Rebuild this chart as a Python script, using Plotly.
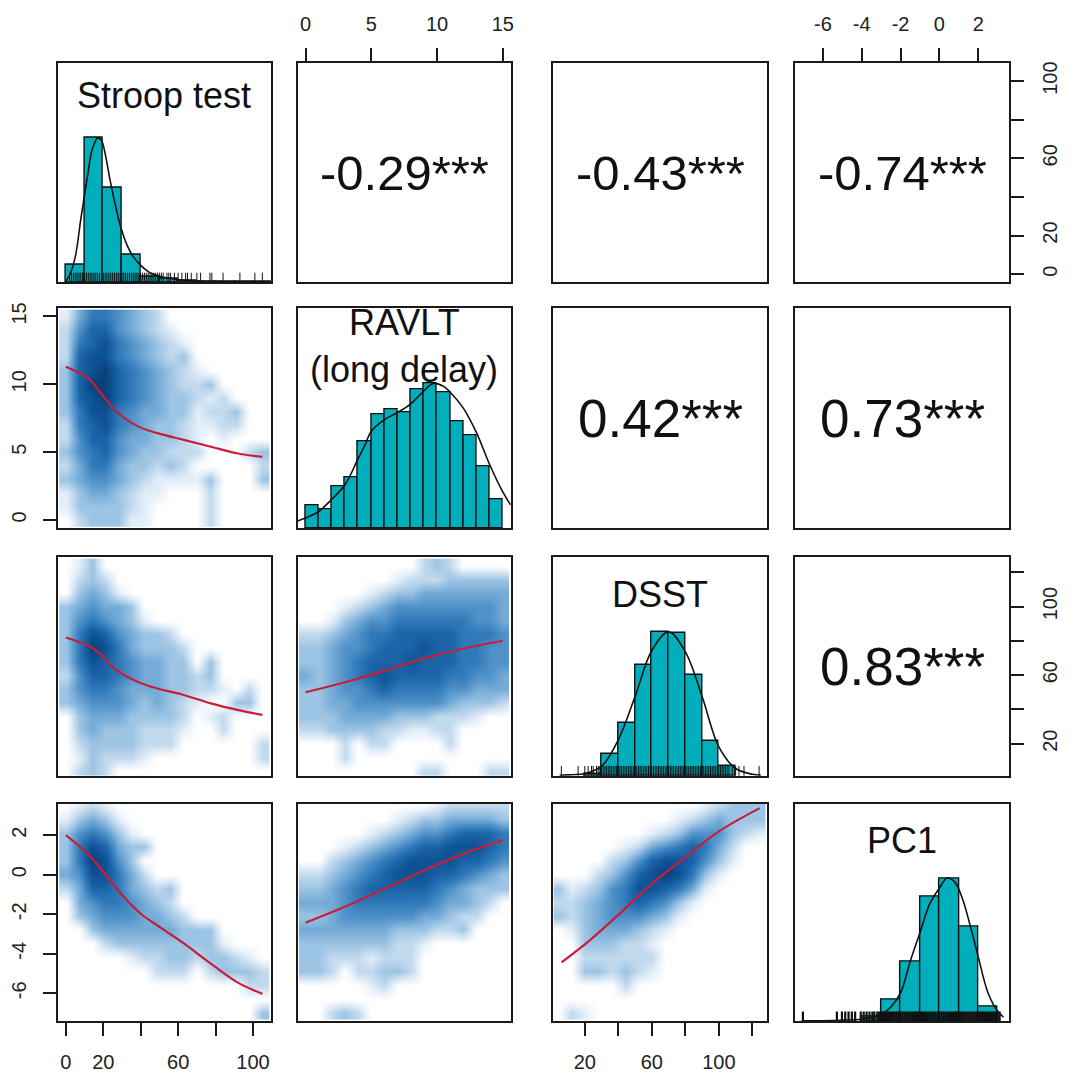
import plotly.graph_objects as go

W, H = 1077, 1074
OFF = 8  # page body margin of the html page (px)
FONT = "Liberation Sans, Arial, sans-serif"

# ---------------- variables / axes ----------------
var_titles = [["Stroop test"], ["RAVLT", "(long delay)"], ["DSST"], ["PC1"]]
title_centers_px = [[90], [318, 365], [592], [839]]
var_ranges = [[-4.3, 109.5], [-0.6, 15.6], [1.3, 129.0], [-7.42, 3.6]]
tick_vals = [[0, 20, 40, 60, 80, 100], [0, 5, 10, 15], [20, 40, 60, 80, 100, 120], [-6, -4, -2, 0, 2]]
tick_text = [["0", "20", "", "60", "", "100"], ["0", "5", "10", "15"],
             ["20", "", "60", "", "100", ""], ["-6", "-4", "-2", "0", "2"]]

# ---------------- correlations (upper panels) ----------------
corr_cells = [(0, 1), (0, 2), (0, 3), (1, 2), (1, 3), (2, 3)]
corr_labels = ["-0.29***", "-0.43***", "-0.74***", "0.42***", "0.73***", "0.83***"]

# ---------------- histograms (diagonal) ----------------
stroop_edges = [0, 10, 20, 30, 40, 50, 60, 70, 80, 90, 100, 110]
stroop_counts = [29, 240, 158, 46, 10, 6, 3, 2, 1, 1, 2]
ravlt_edges = [0, 1, 2, 3, 4, 5, 6, 7, 8, 9, 10, 11, 12, 13, 14, 15]
ravlt_counts = [16, 13, 29, 35, 60, 79, 82, 80, 96, 100, 94, 74, 64, 43, 20]
dsst_edges = [20, 30, 40, 50, 60, 70, 80, 90, 100, 110]
dsst_counts = [1, 15, 37, 77, 100, 99, 70, 24, 7]
pc1_edges = [-4, -3, -2, -1, 0, 1, 2, 3]
pc1_counts = [3, 15, 42, 87, 100, 66, 10]

stroop_dens_x = [0, 2, 5, 8, 10, 12, 14, 17, 19, 21, 23.5, 26, 29.5, 33, 36, 39.5, 44, 49, 55, 62, 70, 80, 90, 100, 109]
stroop_dens_y = [2, 12, 42, 105, 145, 185, 220, 240, 236, 214, 172, 135, 90, 60, 43, 30, 18, 11, 7, 4, 2.5, 1.5, 1, 0.7, 0.5]
ravlt_dens_x = [-0.6, 0, 1, 2, 3, 4, 4.5, 5, 6, 7, 8, 9, 9.7, 10.5, 11, 12, 13, 14, 15, 15.6]
ravlt_dens_y = [5, 7, 11.5, 20, 30, 48, 57, 67, 75, 80, 86, 95, 100, 98, 94, 83, 66, 44, 25, 16]
dsst_dens_x = [5, 10, 20, 30, 40, 50, 60, 70, 80, 90, 100, 110, 120, 125]
dsst_dens_y = [0.3, 0.6, 1.5, 6.5, 25, 55, 87, 100, 86, 55, 20, 5, 1, 0.4]
pc1_dens_x = [-7.1, -6, -5, -4, -3, -2.5, -2, -1.5, -1, -0.5, 0, 0.4, 0.8, 1.2, 1.6, 2, 2.5, 3, 3.3]
pc1_dens_y = [0.3, 0.4, 0.8, 1.5, 5, 10, 20, 42, 62, 82, 93, 100, 97, 85, 66, 45, 20, 7, 3]

stroop_rug = [2, 3, 4, 5, 6, 7, 8, 9, 10, 11, 12, 13, 14, 15, 16, 17, 18, 19, 20, 21, 22, 23, 24, 25,
              26, 27, 28, 29, 30, 31, 32, 33, 34, 35, 36, 37, 38, 39, 40, 41, 42, 43, 44, 45, 46, 47,
              48, 49, 50, 51, 52, 54, 55, 56, 58, 60, 62, 64, 65, 67, 70, 72, 77, 78, 84, 93, 101, 105]
ravlt_rug = []
dsst_rug = [6, 16, 20, 22, 24, 25, 27, 28, 29, 30, 31, 32, 33, 34, 35, 36, 37, 38, 39, 40, 41, 42,
            43, 44, 45, 46, 47, 48, 49, 50, 51, 52, 53, 54, 55, 56, 57, 58, 59, 60, 61, 62, 63, 64,
            65, 66, 67, 68, 69, 70, 71, 72, 73, 74, 75, 76, 77, 78, 79, 80, 81, 82, 83, 84, 85, 86,
            87, 88, 89, 90, 91, 92, 93, 94, 95, 96, 97, 98, 99, 100, 101, 102, 103, 104, 105, 106,
            108, 110, 112, 115, 124]
pc1_rug = [-7.03, -5.28, -5.02, -4.85, -4.68, -4.51, -4.34, -4.05, -3.9, -3.75, -3.6, -3.45, -3.35,
           -3.2, -3.1, -3.0, -2.9, -2.8, -2.7, -2.6, -2.5, -2.4, -2.3, -2.2, -2.1, -2.0, -1.9, -1.8,
           -1.7, -1.6, -1.5, -1.4, -1.3, -1.2, -1.1, -1.0, -0.9, -0.8, -0.7, -0.6, -0.5, -0.4, -0.3,
           -0.2, -0.1, 0.0, 0.1, 0.2, 0.3, 0.4, 0.5, 0.6, 0.7, 0.8, 0.9, 1.0, 1.1, 1.2, 1.3, 1.4,
           1.5, 1.6, 1.7, 1.8, 1.9, 2.0, 2.1, 2.2, 2.3, 2.4, 2.5, 2.6, 2.7, 2.8, 2.9, 3.0, 3.1]
rug_widths = [1, 1, 1, 2.2]

hist_edges = [stroop_edges, ravlt_edges, dsst_edges, pc1_edges]
hist_counts = [stroop_counts, ravlt_counts, dsst_counts, pc1_counts]
dens_x = [stroop_dens_x, ravlt_dens_x, dsst_dens_x, pc1_dens_x]
dens_y = [stroop_dens_y, ravlt_dens_y, dsst_dens_y, pc1_dens_y]
rugs = [stroop_rug, ravlt_rug, dsst_rug, pc1_rug]

# ---------------- smoothed-scatter density grids (lower panels) ----------------
grid_stroop = [0, 7, 14, 21, 28, 35, 42, 49, 56, 63, 70, 77, 84, 91, 98, 105]
grid_ravlt = [0, 1, 2, 3, 4, 5, 6, 7, 8, 9, 10, 11, 12, 13, 14, 15]
grid_dsst = [4, 12, 20, 28, 36, 44, 52, 60, 68, 76, 84, 92, 100, 108, 116, 124]
grid_pc1 = [-7.0, -6.3, -5.6, -4.9, -4.2, -3.5, -2.8, -2.1, -1.4, -0.7, 0.0, 0.7, 1.4, 2.1, 2.8, 3.5]
grids = [grid_stroop, grid_ravlt, grid_dsst, grid_pc1]

# rows listed from the top of the panel to the bottom; one digit per grid cell (0 = white, 9 = darkest)
dens_stroop_ravlt = [
    "1466543200000000", "2577543210000000", "2678654321000000", "2788654323000000",
    "3789765432100000", "3799765432230000", "3789765433212000", "3688654433122300",
    "2678654332112200", "2577544332101000", "3567543322200023", "2466433232000002",
    "3455432111130003", "1344321100020000", "1333321000020000", "0233311000020000"]
dens_stroop_dsst = [
    "0130000000000000", "0232000000000000", "0343100000000000", "3454430000000000",
    "3565431000000000", "3687543320000000", "3698643332000000", "3687654433030000",
    "2577654433230000", "3566544433221020", "3455543432100330", "0344433332012000",
    "0343332221002000", "0233332220000002", "0132221000000002", "0232000000000000"]
dens_ravlt_dsst = [
    "0000000002320000", "0000000122233333", "0000012334444444", "0001234555555554",
    "0013455666666554", "2234566777776665", "3345567778776655", "3345677787776655",
    "4345678777766554", "3345567666655444", "3344555555543332", "3334444333222100",
    "2233332211220000", "0002022000020000", "0002000000000000", "0000000002200022"]
dens_stroop_pc1 = [
    "0121000000000000", "1343100000000000", "3565310000000000", "3687433000000000",
    "3698530000000000", "4588642000000000", "2477643230000000", "0456654320000000",
    "0345554432000000", "0034444443330000", "0002333333331000", "0000012233233210",
    "0000000222023332", "0000000000000022", "0000000000000000", "0000000000000003"]
dens_ravlt_pc1 = [
    "0000000000122222", "0000000123344443", "0000012345567776", "0001234567788876",
    "0023456788887765", "2234567888776543", "3345677777654333", "4445666666544320",
    "3345555554432200", "4444444333223000", "3333333221000000", "3322212220000000",
    "3320223320000000", "0000012000000000", "0000000000000000", "0023200000000000"]
dens_dsst_pc1 = [
    "0000000000012333", "0000000001234333", "0000000123555321", "0000012456764200",
    "0000235788753100", "0002357898631000", "3123568876410000", "2234567653100000",
    "3234555431000000", "0134443210000000", "0033322100000000", "0022222200000000",
    "0033232100000000", "0000020000000000", "0000000000000000", "0210000000000000"]

lower_cells = [(1, 0), (2, 0), (2, 1), (3, 0), (3, 1), (3, 2)]
lower_dens = [dens_stroop_ravlt, dens_stroop_dsst, dens_ravlt_dsst, dens_stroop_pc1, dens_ravlt_pc1, dens_dsst_pc1]

# loess fits (red lines)
loess_x = [
    [0, 12, 17.3, 27, 38.6, 49, 63, 77.5, 92, 105],
    [0, 12, 17.3, 26.2, 38.6, 49, 63.4, 77.5, 91.7, 105],
    [0, 3.07, 6.1, 8.9, 12.1, 15],
    [0, 8.5, 15.6, 22.7, 31.5, 40.4, 51, 63.4, 77.5, 91.7, 105],
    [0, 3.07, 6.1, 9.1, 12.1, 15],
    [6.1, 22.4, 40.2, 58, 77.8, 99.6, 124.4]]
loess_y = [
    [11.3, 10.45, 9.6, 8.0, 6.9, 6.4, 5.9, 5.4, 4.9, 4.65],
    [82, 77.2, 73.4, 63.7, 56, 52.2, 48.3, 43.5, 39.7, 36.8],
    [50, 56, 62.8, 69.5, 75.7, 80.1],
    [2.0, 1.33, 0.66, -0.18, -1.18, -2.0, -2.7, -3.5, -4.5, -5.45, -6.03],
    [-2.43, -1.6, -0.68, 0.24, 1.08, 1.75],
    [-4.44, -3.36, -2.02, -0.6, 0.74, 2.17, 3.37]]

# ---------------- layout geometry (screen pixels) ----------------
col_px = [(56, 270), (297, 511), (554, 769), (797, 1012)]
row_px = [(57, 278), (304, 525), (554, 774), (802, 1021)]


def px_x(p):
    return (p - OFF) / W


def px_y(p):
    return 1 - (p - OFF) / H


blues = [[0.0, "#FFFFFF"], [1 / 9, "#E3EEF8"], [2 / 9, "#C2DAEE"], [3 / 9, "#9CC4E4"],
         [4 / 9, "#74ABD7"], [5 / 9, "#4F91C8"], [6 / 9, "#3079B9"], [7 / 9, "#1B64A7"],
         [8 / 9, "#0E5294"], [1.0, "#0A3F7A"]]

fig = go.Figure()


def ref(k, a):
    return a if k == 1 else f"{a}{k}"


def key(k, a):
    return f"{a}axis" if k == 1 else f"{a}axis{k}"


base_axis = dict(showline=True, mirror=True, linecolor="#1a1a1a", linewidth=1.6,
                 showgrid=False, zeroline=False, ticks="", showticklabels=False,
                 fixedrange=True)

tick_style = dict(ticks="outside", ticklen=13, tickwidth=1.5, tickcolor="#1a1a1a",
                  showticklabels=True, tickfont=dict(family=FONT, size=20, color="#222222"),
                  ticklabelstandoff=9)

x_tick_panels = {(0, 1): "top", (0, 3): "top", (3, 0): "bottom", (3, 2): "bottom"}
y_tick_panels = {(0, 3): "right", (2, 3): "right", (1, 0): "left", (3, 0): "left"}

layout_axes = {}
for r in range(4):
    for c in range(4):
        k = r * 4 + c + 1
        x0, x1 = col_px[c]
        y0, y1 = row_px[r]
        xa = dict(base_axis, domain=[px_x(x0), px_x(x1)], anchor=ref(k, "y"), range=var_ranges[c])
        if r == c:
            ya_range = [0, 1.52 * max(hist_counts[r])]
        else:
            ya_range = var_ranges[r]
        ya = dict(base_axis, domain=[px_y(y1), px_y(y0)], anchor=ref(k, "x"), range=ya_range)
        if (r, c) in x_tick_panels:
            xa.update(tick_style)
            xa.update(side=x_tick_panels[(r, c)], tickmode="array",
                      tickvals=tick_vals[c], ticktext=tick_text[c])
        if (r, c) in y_tick_panels:
            ya.update(tick_style)
            ya.update(side=y_tick_panels[(r, c)], tickmode="array", tickangle=-90,
                      tickvals=tick_vals[r], ticktext=tick_text[r])
        layout_axes[key(k, "x")] = xa
        layout_axes[key(k, "y")] = ya

# upper panels: empty placeholders so the frames and axes are drawn
for (r, c) in corr_cells:
    k = r * 4 + c + 1
    fig.add_trace(go.Scatter(x=[None], y=[None], mode="markers", hoverinfo="skip",
                             xaxis=ref(k, "x"), yaxis=ref(k, "y")))

# lower panels: smoothed density + loess line
for i, (r, c) in enumerate(lower_cells):
    k = r * 4 + c + 1
    z = [[int(ch) for ch in row] for row in reversed(lower_dens[i])]
    fig.add_trace(go.Heatmap(x=grids[c], y=grids[r], z=z, zmin=0, zmax=9, zsmooth="best",
                             colorscale=blues, showscale=False, hoverinfo="skip",
                             xaxis=ref(k, "x"), yaxis=ref(k, "y")))
    fig.add_trace(go.Scatter(x=loess_x[i], y=loess_y[i], mode="lines",
                             line=dict(color="#C81E3A", width=2.2, shape="spline"),
                             hoverinfo="skip", xaxis=ref(k, "x"), yaxis=ref(k, "y")))

# diagonal panels: histogram, density, rug
for d in range(4):
    k = d * 5 + 1
    edges = hist_edges[d]
    centers = [(edges[j] + edges[j + 1]) / 2 for j in range(len(edges) - 1)]
    widths = [edges[j + 1] - edges[j] for j in range(len(edges) - 1)]
    fig.add_trace(go.Bar(x=centers, y=hist_counts[d], width=widths,
                         marker=dict(color="#00AFBB", line=dict(color="#111111", width=1.4)),
                         hoverinfo="skip", xaxis=ref(k, "x"), yaxis=ref(k, "y")))
    fig.add_trace(go.Scatter(x=dens_x[d], y=dens_y[d], mode="lines",
                             line=dict(color="#111111", width=1.6, shape="spline"),
                             hoverinfo="skip", xaxis=ref(k, "x"), yaxis=ref(k, "y")))
    if rugs[d]:
        fig.add_trace(go.Scatter(x=rugs[d], y=[0] * len(rugs[d]), mode="markers",
                                 marker=dict(symbol="line-ns", size=14,
                                             line=dict(color="#111111", width=rug_widths[d])),
                                 hoverinfo="skip", xaxis=ref(k, "x"), yaxis=ref(k, "y")))

annotations = []
for d in range(4):
    cx = px_x((col_px[d][0] + col_px[d][1]) / 2)
    for line, cy in zip(var_titles[d], title_centers_px[d]):
        annotations.append(dict(x=cx, y=px_y(cy), xref="paper", yref="paper",
                                text=line, showarrow=False, xanchor="center", yanchor="middle",
                                font=dict(family=FONT, size=36, color="#111111")))
for (r, c), lab in zip(corr_cells, corr_labels):
    cx = px_x((col_px[c][0] + col_px[c][1]) / 2)
    cy = px_y((row_px[r][0] + row_px[r][1]) / 2)
    size = 49 if lab.startswith("-") else 53
    annotations.append(dict(x=cx, y=cy, xref="paper", yref="paper", text=lab,
                            showarrow=False, xanchor="center", yanchor="middle",
                            font=dict(family=FONT, size=size, color="#111111")))

fig.update_layout(width=W, height=H, margin=dict(l=0, r=0, t=0, b=0),
                  paper_bgcolor="white", plot_bgcolor="white", showlegend=False,
                  annotations=annotations, bargap=0, **layout_axes)

fig.write_html("out.html")
